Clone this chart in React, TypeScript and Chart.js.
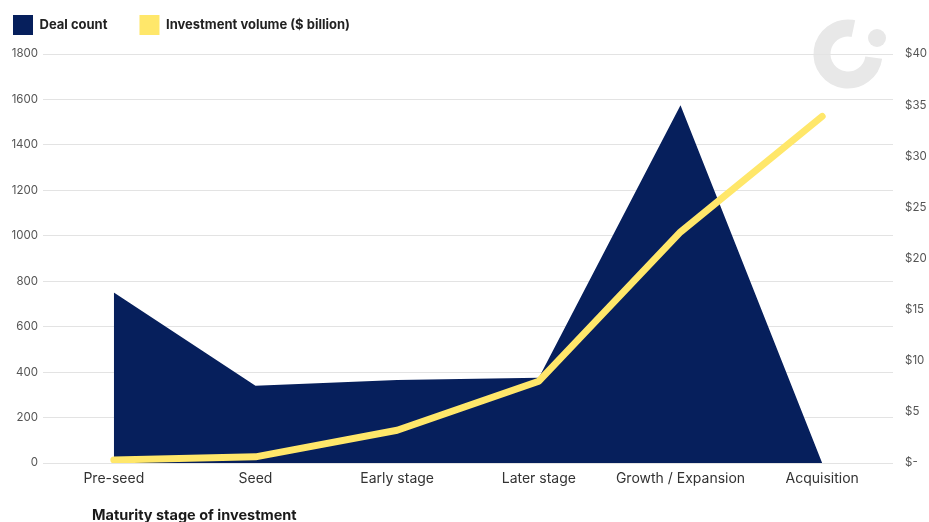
import React, { useEffect, useRef } from "react";
import { Chart, registerables } from "chart.js";

Chart.register(...registerables);

const stages = ["Pre-seed", "Seed", "Early stage", "Later stage", "Growth / Expansion", "Acquisition"];
const dealCount = [750, 340, 365, 375, 1575, 0];
const investmentVolume = [0.3, 0.6, 3.2, 8.0, 22.6, 33.9];
const leftTicks = [0, 200, 400, 600, 800, 1000, 1200, 1400, 1600, 1800];
const rightTicks = [0, 5, 10, 15, 20, 25, 30, 35, 40];
const axisTitle = "Maturity stage of investment";

const NAVY = "#061f5c";
const YELLOW = "#ffe76a";
const FONT = "Inter, 'Noto Sans', sans-serif";
const LEG_PAD = 32;
const PAD_LEFT = 13 - LEG_PAD;
const PAD_TOP = 15 - LEG_PAD;

const logoPlugin = {
  id: "logo",
  afterInit(chart: any) {
    const lg = chart.legend;
    if (lg && !lg.__patched) {
      const orig = lg.fit;
      lg.fit = function () {
        orig.call(this);
        this.height = 54 - PAD_TOP;
      };
      lg.__patched = true;
    }
  },
  beforeDraw(chart: any) {
    const ctx = chart.ctx;
    ctx.save();
    ctx.strokeStyle = "#e8e8e8";
    ctx.fillStyle = "#e8e8e8";
    ctx.lineWidth = 17;
    ctx.beginPath();
    ctx.arc(848, 54, 26, (8 * Math.PI) / 180, (282 * Math.PI) / 180);
    ctx.stroke();
    ctx.beginPath();
    ctx.arc(877, 38, 9, 0, Math.PI * 2);
    ctx.fill();
    ctx.restore();
  },
};

const titlePlugin = {
  id: "xTitle",
  afterDraw(chart: any) {
    const ctx = chart.ctx;
    ctx.save();
    ctx.font = `bold 14.5px ${FONT}`;
    ctx.fillStyle = "#1a1a1a";
    ctx.textAlign = "left";
    ctx.textBaseline = "middle";
    ctx.fillText(axisTitle, 92, 516);
    ctx.restore();
  },
};

export default function App() {
  const ref = useRef<HTMLCanvasElement>(null);
  useEffect(() => {
    document.body.style.margin = "0";
    const chart = new Chart(ref.current!, {
      type: "line",
      data: {
        labels: stages,
        datasets: [
          {
            label: "Deal count",
            data: dealCount,
            yAxisID: "y",
            fill: "origin",
            backgroundColor: NAVY,
            borderColor: NAVY,
            borderWidth: 0,
            pointRadius: 0,
            tension: 0,
            order: 2,
          },
          {
            label: "Investment volume ($ billion)",
            data: investmentVolume,
            yAxisID: "y1",
            fill: false,
            backgroundColor: YELLOW,
            borderColor: YELLOW,
            borderWidth: 7,
            borderCapStyle: "round",
            borderJoinStyle: "round",
            pointRadius: 0,
            tension: 0,
            order: 1,
          },
        ],
      },
      options: {
        animation: false,
        responsive: false,
        layout: { padding: { left: PAD_LEFT, top: PAD_TOP, right: 0, bottom: 0 } },
        plugins: {
          tooltip: { enabled: false },
          legend: {
            position: "top",
            align: "start",
            labels: {
              boxWidth: 20,
              boxHeight: 20,
              padding: LEG_PAD,
              color: "#222",
              font: { family: FONT, size: 13, weight: "bold" },
              sort: (a: any, b: any) => a.datasetIndex - b.datasetIndex,
              generateLabels: (c: any) =>
                Chart.defaults.plugins.legend.labels.generateLabels(c).map((l: any) => ({
                  ...l,
                  lineWidth: 0,
                  strokeStyle: l.fillStyle,
                })),
            },
          },
        },
        scales: {
          x: {
            offset: true,
            grid: { display: false, drawTicks: false },
            border: { display: false },
            ticks: { color: "#333", font: { family: FONT, size: 14 }, padding: 7, maxRotation: 0 },
            afterFit: (s: any) => {
              s.height = 59;
            },
          },
          y: {
            position: "left",
            min: 0,
            max: 1800,
            afterBuildTicks: (s: any) => {
              s.ticks = leftTicks.map((v) => ({ value: v }));
            },
            grid: { color: "#e3e3e3", lineWidth: 1, drawTicks: false },
            border: { display: false },
            ticks: {
              color: "#555",
              font: { family: FONT, size: 11.5 },
              padding: 5,
              callback: (v: any) => String(v),
            },
            afterFit: (s: any) => {
              s.width = 43 - PAD_LEFT;
            },
          },
          y1: {
            position: "right",
            min: 0,
            max: 40,
            afterBuildTicks: (s: any) => {
              s.ticks = rightTicks.map((v) => ({ value: v }));
            },
            grid: { display: false, drawTicks: false },
            border: { display: false },
            ticks: {
              color: "#555",
              font: { family: FONT, size: 11.5 },
              padding: 12,
              callback: (v: any) => (v === 0 ? "$-" : `$${v}`),
            },
            afterFit: (s: any) => {
              s.width = 36;
            },
          },
        },
      },
      plugins: [logoPlugin, titlePlugin],
    } as any);
    return () => chart.destroy();
  }, []);
  return <canvas ref={ref} width={929} height={522} style={{ display: "block" }} />;
}
